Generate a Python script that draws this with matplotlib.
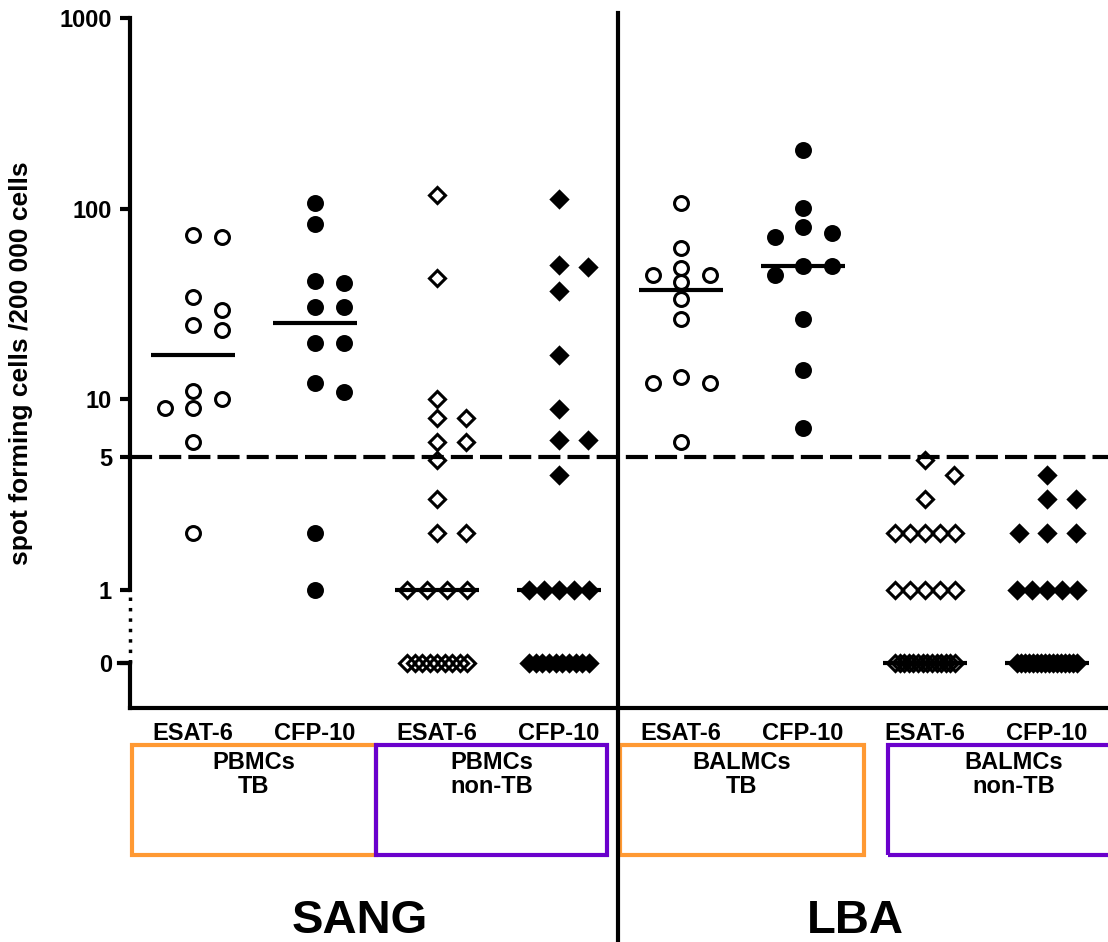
import numpy as np
import matplotlib
matplotlib.use("Agg")
import matplotlib.pyplot as plt
from matplotlib.patches import Rectangle
from matplotlib.transforms import blended_transform_factory
from matplotlib.ticker import FixedLocator, NullLocator

plt.rcParams["font.family"] = ["Liberation Sans", "DejaVu Sans"]
plt.rcParams["font.weight"] = "bold"

# ---- data (spot forming cells / 200 000 cells) ----
antigens = ["ESAT-6", "CFP-10"] * 4
box_labels = ["PBMCs\nTB", "PBMCs\nnon-TB", "BALMCs\nTB", "BALMCs\nnon-TB"]
compartments = ["SANG", "LBA"]
ytick_vals = [0, 1, 5, 10, 100, 1000]
cutoff = 5

sang_tb_esat = [73, 71, 34.4, 29.4, 24.5, 23.1, 11.1, 10.0, 9.0, 9.0, 6.0, 2.0]
sang_tb_cfp = [107, 83, 41.8, 40.8, 30.5, 30.5, 19.7, 19.7, 12.2, 10.9, 2.0, 1.0]
sang_ntb_esat = [118, 43.3, 10.0, 8.0, 8.0, 6.0, 6.0, 4.8, 3.0, 2.0, 2.0] + [1] * 4 + [0] * 9
sang_ntb_cfp = [112, 50.7, 49.4, 37.0, 17.1, 8.9, 6.1, 6.1, 4.0] + [1] * 5 + [0] * 10
lba_tb_esat = [107, 62, 48.9, 44.9, 44.9, 41.2, 33.6, 26.4, 13.1, 12.2, 12.2, 6.0]
lba_tb_cfp = [203, 101, 80, 74.6, 71, 50, 50, 44.9, 26.4, 14.3, 7.1]
lba_ntb_esat = [4.8, 4.0, 3.0] + [2] * 5 + [1] * 5 + [0] * 14
lba_ntb_cfp = [4.0, 3.0, 3.0] + [2] * 3 + [1] * 5 + [0] * 16

groups = [sang_tb_esat, sang_tb_cfp, sang_ntb_esat, sang_ntb_cfp,
          lba_tb_esat, lba_tb_cfp, lba_ntb_esat, lba_ntb_cfp]
markers = ["o", "o", "D", "D"] * 2
filled = [False, True] * 4
orange, purple = "#ff9933", "#6a00cc"
box_colors = [orange, purple, orange, purple]

# broken axis: log above 1, "0" placed a bit below 1
Z = 0.385


def fwd(y):
    y = np.asarray(y, float)
    return np.where(y >= 1, np.log10(np.maximum(y, 1)), Z * (y - 1))


def inv(f):
    f = np.asarray(f, float)
    return np.where(f >= 0, 10 ** np.minimum(f, 30), 1 + f / Z)


def swarm(vals, ypx, hit, slot=28.5, span=60.0):
    """x offsets (pixels): rows of >=3 equal values centered, others stacked in slots."""
    vals = np.asarray(vals, float)
    offs = np.zeros(len(vals))
    placed = []
    uniq, counts = np.unique(vals, return_counts=True)
    cnt = dict(zip(uniq, counts))
    for u, c in zip(uniq, counts):
        if c >= 3:
            idx = np.where(vals == u)[0]
            step = min(slot, span / (c - 1))
            for j, i in enumerate(idx):
                offs[i] = (j - (c - 1) / 2) * step
                placed.append((offs[i], ypx[i]))
    for i in np.argsort(-vals, kind="stable"):
        if cnt[vals[i]] >= 3:
            continue
        for s in [0, 1, -1, 2, -2, 3, -3]:
            o = s * slot
            if all(abs(o - po) >= hit or abs(ypx[i] - py) >= hit for po, py in placed):
                break
        offs[i] = o
        placed.append((o, ypx[i]))
    return offs


W, H = 1108, 942
fig = plt.figure(figsize=(W / 100, H / 100), dpi=100)
ax = fig.add_axes([130 / W, 234 / H, 978 / W, 690 / H])
ax.set_yscale("function", functions=(fwd, inv))
ybot = float(inv(-(708 - 590) / 190.67))
ax.set_ylim(ybot, 1000)
x0 = 1 - 63 / 122
ax.set_xlim(x0, x0 + 978 / 122)

for s in ["top", "right", "left"]:
    ax.spines[s].set_visible(False)
ax.spines["bottom"].set_linewidth(3)
ax.set_xticks([])
ax.yaxis.set_major_locator(FixedLocator(ytick_vals))
ax.yaxis.set_minor_locator(NullLocator())
ax.set_yticklabels([str(v) for v in ytick_vals])
ax.tick_params(axis="y", length=7, width=3, labelsize=17, pad=6)
for lab in ax.get_yticklabels():
    lab.set_fontweight("bold")

# left axis with break between 0 and 1
ax.plot([x0, x0], [1, 1000], color="k", lw=3, clip_on=False, solid_capstyle="projecting")
ax.plot([x0, x0], [0, 1], color="k", lw=2.5, ls=(0, (1, 2.0)), clip_on=False)
ax.plot([x0, x0], [ybot, 0], color="k", lw=3, clip_on=False)
ax.plot([x0 - 11 / 122, x0], [0, 0], color="k", lw=3, clip_on=False)

ax.set_ylabel("spot forming cells /200 000 cells", fontsize=19, fontweight="bold", labelpad=10)
ax.yaxis.set_label_coords(-97 / 978, 0.5)

ax.axhline(cutoff, color="k", lw=3, dashes=(5.3, 1.7), zorder=1)
ax.axvline(4.48, ymin=-0.34, ymax=1.007, color="k", lw=3, clip_on=False)

px_per_x = ax.transData.transform((1, 1))[0] - ax.transData.transform((0, 1))[0]
for k, vals in enumerate(groups):
    pos = k + 1
    ypx = ax.transData.transform(np.column_stack([np.full(len(vals), pos), vals]))[:, 1]
    if markers[k] == "o":
        ms, mew, hit = 10, 2.2, 14.0
    else:
        ms, mew, hit = 8, 2.2, 18.0
    xs = pos + swarm(vals, ypx, hit) / px_per_x
    ax.plot(xs, vals, ls="none", marker=markers[k], ms=ms, mew=mew, mec="k",
            mfc="k" if filled[k] else "none", clip_on=False, zorder=3)
    med = np.median(vals)
    ax.plot([pos - 0.344, pos + 0.344], [med, med], color="k", lw=3, zorder=4,
            solid_capstyle="butt")

# labels under the axis
trans = blended_transform_factory(ax.transData, fig.transFigure)
for k, name in enumerate(antigens):
    ax.text(k + 1, (H - 733) / H, name, transform=trans, ha="center", va="center",
            fontsize=17, fontweight="bold")

box_spans = [(0.5, 2.5), (2.5, 4.395), (4.5, 6.5), (6.7, 8.76)]
for (a, b), col, lab in zip(box_spans, box_colors, box_labels):
    ax.add_patch(Rectangle((a, (H - 855) / H), b - a, 110 / H, transform=trans,
                           fill=False, ec=col, lw=3, clip_on=False, joinstyle="miter"))
    ax.text((a + b) / 2, (H - 751) / H, lab, transform=trans, ha="center", va="top",
            fontsize=17, fontweight="bold", linespacing=1.05)

for name, xc in zip(compartments, [2.37, 6.43]):
    ax.text(xc, (H - 933) / H, name, transform=trans, ha="center", va="baseline",
            fontsize=34, fontweight="bold")

fig.savefig("out.png", dpi=100)
